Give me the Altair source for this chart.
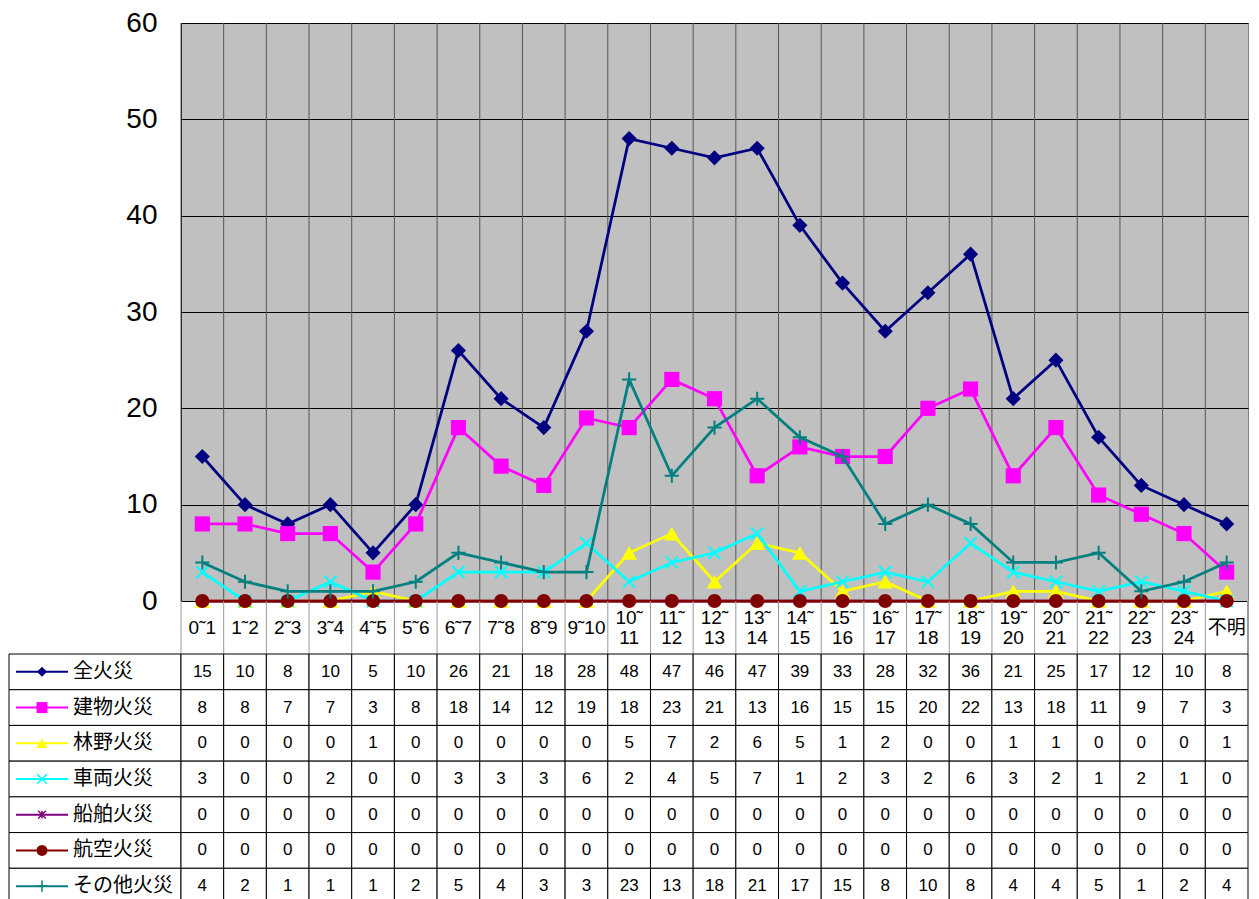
import altair as alt
import pandas as pd

# ---------------- data ----------------
categories = ["0˜1", "1˜2", "2˜3", "3˜4", "4˜5", "5˜6", "6˜7", "7˜8", "8˜9", "9˜10",
              "10˜11", "11˜12", "12˜13", "13˜14", "14˜15", "15˜16", "16˜17", "17˜18",
              "18˜19", "19˜20", "20˜21", "21˜22", "22˜23", "23˜24", "不明"]
header_labels = ["0˜1", "1˜2", "2˜3", "3˜4", "4˜5", "5˜6", "6˜7", "7˜8", "8˜9", "9˜10",
                 "10˜\n11", "11˜\n12", "12˜\n13", "13˜\n14", "14˜\n15", "15˜\n16", "16˜\n17",
                 "17˜\n18", "18˜\n19", "19˜\n20", "20˜\n21", "21˜\n22", "22˜\n23", "23˜\n24", "不明"]

series_names = ["全火災", "建物火災", "林野火災", "車両火災", "船舶火災", "航空火災", "その他火災"]

all_fires = [15, 10, 8, 10, 5, 10, 26, 21, 18, 28, 48, 47, 46, 47, 39, 33, 28, 32, 36, 21, 25, 17, 12, 10, 8]
building = [8, 8, 7, 7, 3, 8, 18, 14, 12, 19, 18, 23, 21, 13, 16, 15, 15, 20, 22, 13, 18, 11, 9, 7, 3]
forest = [0, 0, 0, 0, 1, 0, 0, 0, 0, 0, 5, 7, 2, 6, 5, 1, 2, 0, 0, 1, 1, 0, 0, 0, 1]
vehicle = [3, 0, 0, 2, 0, 0, 3, 3, 3, 6, 2, 4, 5, 7, 1, 2, 3, 2, 6, 3, 2, 1, 2, 1, 0]
ship = [0, 0, 0, 0, 0, 0, 0, 0, 0, 0, 0, 0, 0, 0, 0, 0, 0, 0, 0, 0, 0, 0, 0, 0, 0]
aircraft = [0, 0, 0, 0, 0, 0, 0, 0, 0, 0, 0, 0, 0, 0, 0, 0, 0, 0, 0, 0, 0, 0, 0, 0, 0]
other = [4, 2, 1, 1, 1, 2, 5, 4, 3, 3, 23, 13, 18, 21, 17, 15, 8, 10, 8, 4, 4, 5, 1, 2, 4]

series_values = [all_fires, building, forest, vehicle, ship, aircraft, other]
y_ticks = [0, 10, 20, 30, 40, 50, 60]

# ---------------- styles ----------------
colors = ["#000080", "#FF00FF", "#FFFF00", "#00FFFF", "#800080", "#800000", "#008080"]
PATH_X = "M-1,-1L1,1M-1,1L1,-1"
PATH_PLUS = "M-1,0L1,0M0,-1L0,1"
PATH_AST = "M-1,-1L1,1M-1,1L1,-1M0,-1L0,1"
shapes = ["diamond", "square", "triangle-up", PATH_X, PATH_AST, "circle", PATH_PLUS]
filled = [True, True, True, False, False, True, False]
sizes = [230, 230, 250, 150, 80, 200, 200]
leg_sizes = [100, 120, 120, 90, 60, 120, 130]

rows = []
for s, vals in zip(series_names, series_values):
    for c, v in zip(categories, vals):
        rows.append({"series": s, "cat": c, "value": v})
df = pd.DataFrame(rows)
cat_df = pd.DataFrame({"cat": categories, "label": header_labels})
ser_df = pd.DataFrame({"series": series_names})

W = 1067
H_TOP = 578
H_HEAD = 53
H_BODY = 250
NUM_FONT = "Liberation Sans"
JP_FONT = "Noto Sans CJK JP"

x_scale = alt.Scale(domain=categories, paddingInner=0, paddingOuter=0)
x_enc = alt.X("cat:N", scale=x_scale, sort=categories, axis=None)
x_edge = alt.X("cat:N", scale=x_scale, sort=categories, axis=None, bandPosition=0)

y_enc = alt.Y("value:Q", scale=alt.Scale(domain=[0, 60], nice=False),
              axis=alt.Axis(values=y_ticks, grid=True, gridColor="black", gridWidth=1,
                            domainColor="black", domainWidth=1, ticks=False,
                            labelFontSize=28, labelFont=NUM_FONT, labelColor="black",
                            labelPadding=24, title=None))

# ---------------- top: line chart ----------------
vgrid = alt.Chart(cat_df).mark_rule(color="#555555", strokeWidth=1).encode(x=x_edge)
layers = [vgrid]
for i, s in enumerate(series_names):
    base = alt.Chart(df).transform_filter(alt.datum.series == s)
    layers.append(base.mark_line(color=colors[i], strokeWidth=2.75).encode(x=x_enc, y=y_enc))
    layers.append(base.mark_point(shape=shapes[i], filled=filled[i], size=sizes[i],
                                  color=colors[i], opacity=1,
                                  strokeWidth=(0 if filled[i] else 2)).encode(x=x_enc, y=y_enc))
top = alt.layer(*layers).properties(
    width=W, height=H_TOP,
    view=alt.ViewBackground(fill="#C0C0C0", stroke="#808080", strokeWidth=1))

# ---------------- header row (category labels) ----------------
head_rules = alt.Chart(cat_df).mark_rule(color="#999999", strokeWidth=1).encode(x=x_edge)
head_right = alt.Chart(cat_df).mark_rule(color="#999999", strokeWidth=1).encode(
    x=alt.value(W), y=alt.value(0), y2=alt.value(H_HEAD))
head_font = NUM_FONT + ", " + JP_FONT
head_one = alt.Chart(cat_df).transform_filter(
    "indexof(datum.label, '\\n') < 0"
).mark_text(fontSize=19, font=head_font, baseline="middle", align="center",
            color="black").encode(x=x_enc, y=alt.value(27), text="label:N")
head_two = alt.Chart(cat_df).transform_filter(
    "indexof(datum.label, '\\n') >= 0"
).mark_text(fontSize=19, font=head_font, lineBreak="\n", lineHeight=20,
            baseline="middle", align="center", color="black").encode(
    x=x_enc, y=alt.value(17), text="label:N")
header = alt.layer(head_rules, head_right, head_one, head_two).properties(width=W, height=H_HEAD)

# ---------------- data table ----------------
y_ser = alt.Y("series:N", sort=series_names,
              scale=alt.Scale(domain=series_names, paddingInner=0, paddingOuter=0), axis=None)

leg_cells = alt.Chart(ser_df).mark_rect(fill="white", stroke="black", strokeWidth=1).encode(
    y=y_ser, x=alt.value(-172), x2=alt.value(0))
val_cells = alt.Chart(df).mark_rect(fill="white", stroke="black", strokeWidth=1).encode(
    x=x_enc, y=y_ser)
val_text = alt.Chart(df).mark_text(fontSize=17, font=NUM_FONT, color="black",
                                   baseline="middle").encode(
    x=x_enc, y=y_ser, text="value:Q")
leg_text = alt.Chart(ser_df).mark_text(fontSize=20, font=JP_FONT, align="left",
                                       baseline="middle", color="black").encode(
    x=alt.value(-108), y=y_ser, text="series:N")

body_layers = [leg_cells, val_cells, val_text, leg_text]
for i, s in enumerate(series_names):
    b = alt.Chart(ser_df).transform_filter(alt.datum.series == s)
    body_layers.append(b.mark_rule(color=colors[i], strokeWidth=2).encode(
        y=y_ser, x=alt.value(-165), x2=alt.value(-113)))
    body_layers.append(b.mark_point(shape=shapes[i], filled=filled[i], size=leg_sizes[i],
                                    color=colors[i], opacity=1,
                                    strokeWidth=(0 if filled[i] else 1.5)).encode(
        y=y_ser, x=alt.value(-139)))
body = alt.layer(*body_layers).properties(width=W, height=H_BODY)

chart = alt.vconcat(top, header, body, spacing=0, bounds="flush").properties(
    padding={"left": 0, "top": 0, "right": 0, "bottom": 0}
).configure_view(stroke="transparent")

chart.save("out.html", embed_options={"renderer": "svg", "actions": False})
